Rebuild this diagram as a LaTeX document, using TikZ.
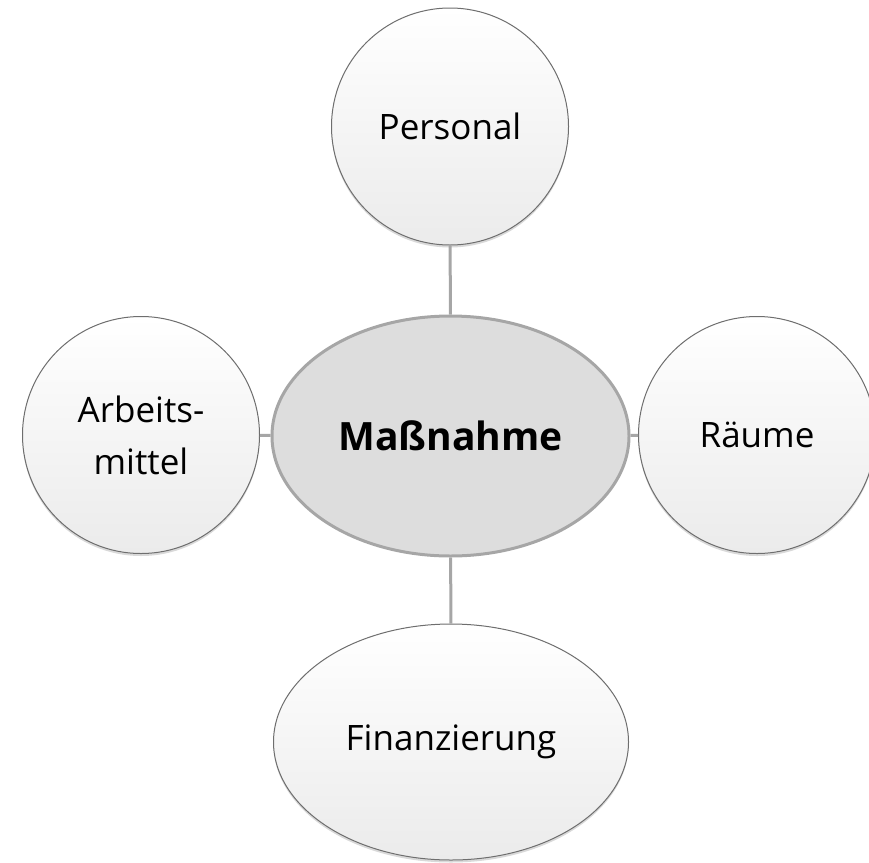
\documentclass[tikz,border=0pt]{standalone}
\usepackage{fontspec}
\setmainfont{Open Sans}
\usetikzlibrary{shapes.geometric,shadows}
\definecolor{linkgray}{HTML}{A6A6A6}
\definecolor{centerfill}{HTML}{DDDDDD}
\definecolor{rimgray}{HTML}{6E6E6E}
\definecolor{satlow}{HTML}{EBEBEB}
\tikzset{
  satellite/.style={draw=rimgray, line width=1pt, top color=white, bottom color=satlow,
    inner sep=0pt, align=center, font=\fontsize{35}{52}\selectfont,
    drop shadow={shadow xshift=0pt, shadow yshift=-2.5pt, opacity=0.25, fill=black!60}},
  satcircle/.style={satellite, circle, minimum size=237pt},
  satellipse/.style={satellite, ellipse, minimum width=355pt, minimum height=236pt},
  hub/.style={ellipse, draw=linkgray, line width=3pt, fill=centerfill, inner sep=0pt,
    minimum width=357pt, minimum height=240pt, font=\fontsize{39}{46}\selectfont\bfseries},
  link/.style={draw=linkgray, line width=3pt}
}
\begin{document}
\begin{tikzpicture}[x=1pt,y=-1pt]
\useasboundingbox (0,0) rectangle (869,862);
\clip (0,0) rectangle (869,862);
\node[hub] (hub) at (450.5,436) {Maßnahme};
\node[satcircle] (pers) at (450,126.5) {Personal};
\node[satcircle] (arb) at (141,435) {Arbeits-\\mittel};
\node[satcircle] (raum) at (757,435) {Räume};
\node[satellipse] (fin) at (451,742) {Finanzierung};
\draw[link] (pers) -- (hub);
\draw[link] (hub) -- (fin);
\draw[link] (arb) -- (hub);
\draw[link] (hub) -- (raum);
\end{tikzpicture}
\end{document}
